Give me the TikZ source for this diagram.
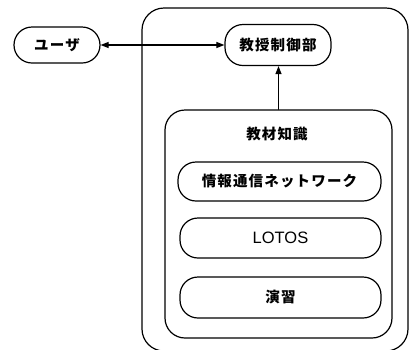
\documentclass[tikz,border=0pt]{standalone}
\usepackage{fontspec}
\setmainfont{Noto Sans CJK JP}[LetterSpace=8]
\newfontfamily\latinfont{Liberation Sans}
\usetikzlibrary{arrows.meta}
\begin{document}
\begin{tikzpicture}[x=1bp, y=-1bp, line width=1.2bp, line join=round, line cap=round, >={Triangle[length=8bp,width=6bp]}]
            \tikzset{every node/.style={font=\fontsize{14.5bp}{16bp}\selectfont\bfseries},
                     pill/.style={draw, rounded corners=18bp, inner sep=0pt, minimum height=39bp}}
            \useasboundingbox (0,0) rectangle (409,350);
            % outer frame (runs off the page at the right and bottom)
            \draw[rounded corners=22bp] (142,8) rectangle (408,351);
            \node[pill, minimum width=86bp, minimum height=36bp] (user) at (57,45) {ユーザ};
            \node[pill, minimum width=106bp, minimum height=41bp] (ctrl) at (278,45) {教授制御部};
            \node[draw, rounded corners=20bp, minimum width=227bp, minimum height=228bp, inner sep=0pt] (knowledge) at (278.5,224) {};
            \node (knowledgelabel) at (277,134) {教材知識};
            \node[pill, minimum width=203bp] (net) at (279.5,181.5) {情報通信ネットワーク};
            \node[pill, minimum width=201bp, minimum height=40bp] (lotos) at (280.5,238) {\latinfont\mdseries\fontsize{16.5bp}{18bp}\selectfont LOTOS};
            \node[pill, minimum width=201bp, minimum height=41bp] (drill) at (280.5,297.5) {演習};
            \draw[<->] (user) -- (ctrl);
            \draw[->] (knowledge.north) -- (knowledge.north |- ctrl.south);
        \end{tikzpicture}
\end{document}
